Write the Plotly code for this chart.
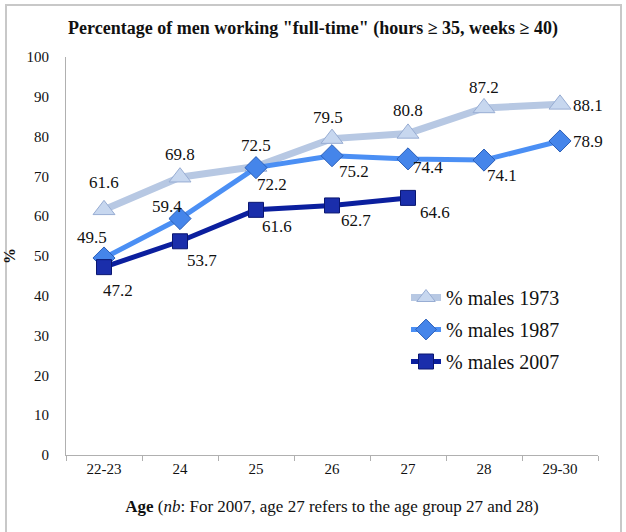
import plotly.graph_objects as go

ages = ["22-23", "24", "25", "26", "27", "28", "29-30"]
males_1973 = [61.6, 69.8, 72.5, 79.5, 80.8, 87.2, 88.1]
males_1987 = [49.5, 59.4, 72.2, 75.2, 74.4, 74.1, 78.9]
males_2007 = [47.2, 53.7, 61.6, 62.7, 64.6, None, None]
y_ticks = [0, 10, 20, 30, 40, 50, 60, 70, 80, 90, 100]

# label offsets (px) relative to each point
off_1973 = [(0, -27), (0, -23), (0, -21), (-4, -21), (0, -23), (0, -20), (28, 1)]
off_1987 = [(-12, -20), (-13, -12), (16, 17), (22, 16), (20, 9), (18, 15), (28, 1)]
off_2007 = [(14, 23), (22, 19), (21, 17), (24, 15), (27, 15), None, None]

FONT = "Liberation Serif"

fig = go.Figure()
series = [
    ("% males 1973", males_1973, "#b7c8e3", 7, "triangle-up", 19, "#c7d7ef", "#98add3", off_1973),
    ("% males 1987", males_1987, "#4b8ff4", 5, "diamond", 17, "#4585ea", "#2b5fb8", off_1987),
    ("% males 2007", males_2007, "#0b1f9e", 5, "square", 15, "#1a2eab", "#0a1670", off_2007),
]
for i, (name, vals, lc, lw, sym, ms, mfc, mec, offs) in enumerate(series):
    fig.add_trace(go.Scatter(
        x=ages, y=vals, name=name, mode="lines+markers",
        line=dict(color=lc, width=lw),
        marker=dict(symbol=sym, size=ms, color=mfc, line=dict(color=mec, width=1)),
        legendgroup=f"g{i}",
    ))
    for idx, (v, o) in enumerate(zip(vals, offs)):
        if v is None:
            continue
        fig.add_annotation(x=idx, y=v, text=f"{v:.1f}", showarrow=False,
                           xshift=o[0], yshift=-o[1],
                           font=dict(family=FONT, size=17, color="#111111"))

# outer frame
fig.add_shape(type="rect", xref="paper", yref="paper",
              x0=(6 - 66) / 532, x1=(621 - 66) / 532,
              y0=(455 - 540) / 398, y1=(455 - 5) / 398,
              line=dict(color="#c8c8c8", width=2), layer="below")

fig.update_layout(
    width=626, height=532,
    margin=dict(l=66, r=28, t=57, b=77),
    paper_bgcolor="white", plot_bgcolor="white",
    font=dict(family=FONT, size=15, color="#111111"),
    title=dict(text='<b>Percentage of men working "full-time" (hours ≥ 35, weeks ≥ 40)</b>',
               x=0.5, xref="container", xanchor="center", y=1 - 28 / 532, yanchor="middle",
               font=dict(family=FONT, size=18, color="#111111")),
    showlegend=True,
    legend=dict(x=(406 - 66) / 532, y=(455 - 278) / 398, xanchor="left", yanchor="top",
                bgcolor="rgba(0,0,0,0)", font=dict(family=FONT, size=20, color="#111111"),
                traceorder="grouped", tracegroupgap=3, itemwidth=30),
    xaxis=dict(type="category", categoryorder="array", categoryarray=ages,
               range=[-0.5, 6.5], tickangle=0, automargin=True,
               showline=True, linecolor="#b0b0b0", linewidth=1,
               ticks="outside", tickson="boundaries", ticklen=5, tickcolor="#b0b0b0",
               showgrid=False, zeroline=False, ticklabelstandoff=0,
               tickfont=dict(family=FONT, size=15),
               title=dict(text="<b>Age</b> (<i>nb</i>: For 2007, age 27 refers to the age group 27 and 28)",
                          font=dict(family=FONT, size=17), standoff=24)),
    yaxis=dict(range=[0, 100], tickvals=y_ticks, showline=True, linecolor="#b0b0b0",
               linewidth=1, ticks="", showgrid=False, zeroline=False, automargin=False,
               ticklabelstandoff=13,
               tickfont=dict(family=FONT, size=15),
               title=dict(text="<b>%</b>", font=dict(family=FONT, size=16), standoff=6)),
)

fig.write_html("out.html", config={"displayModeBar": False},
               post_script="document.body.style.margin='0';")
